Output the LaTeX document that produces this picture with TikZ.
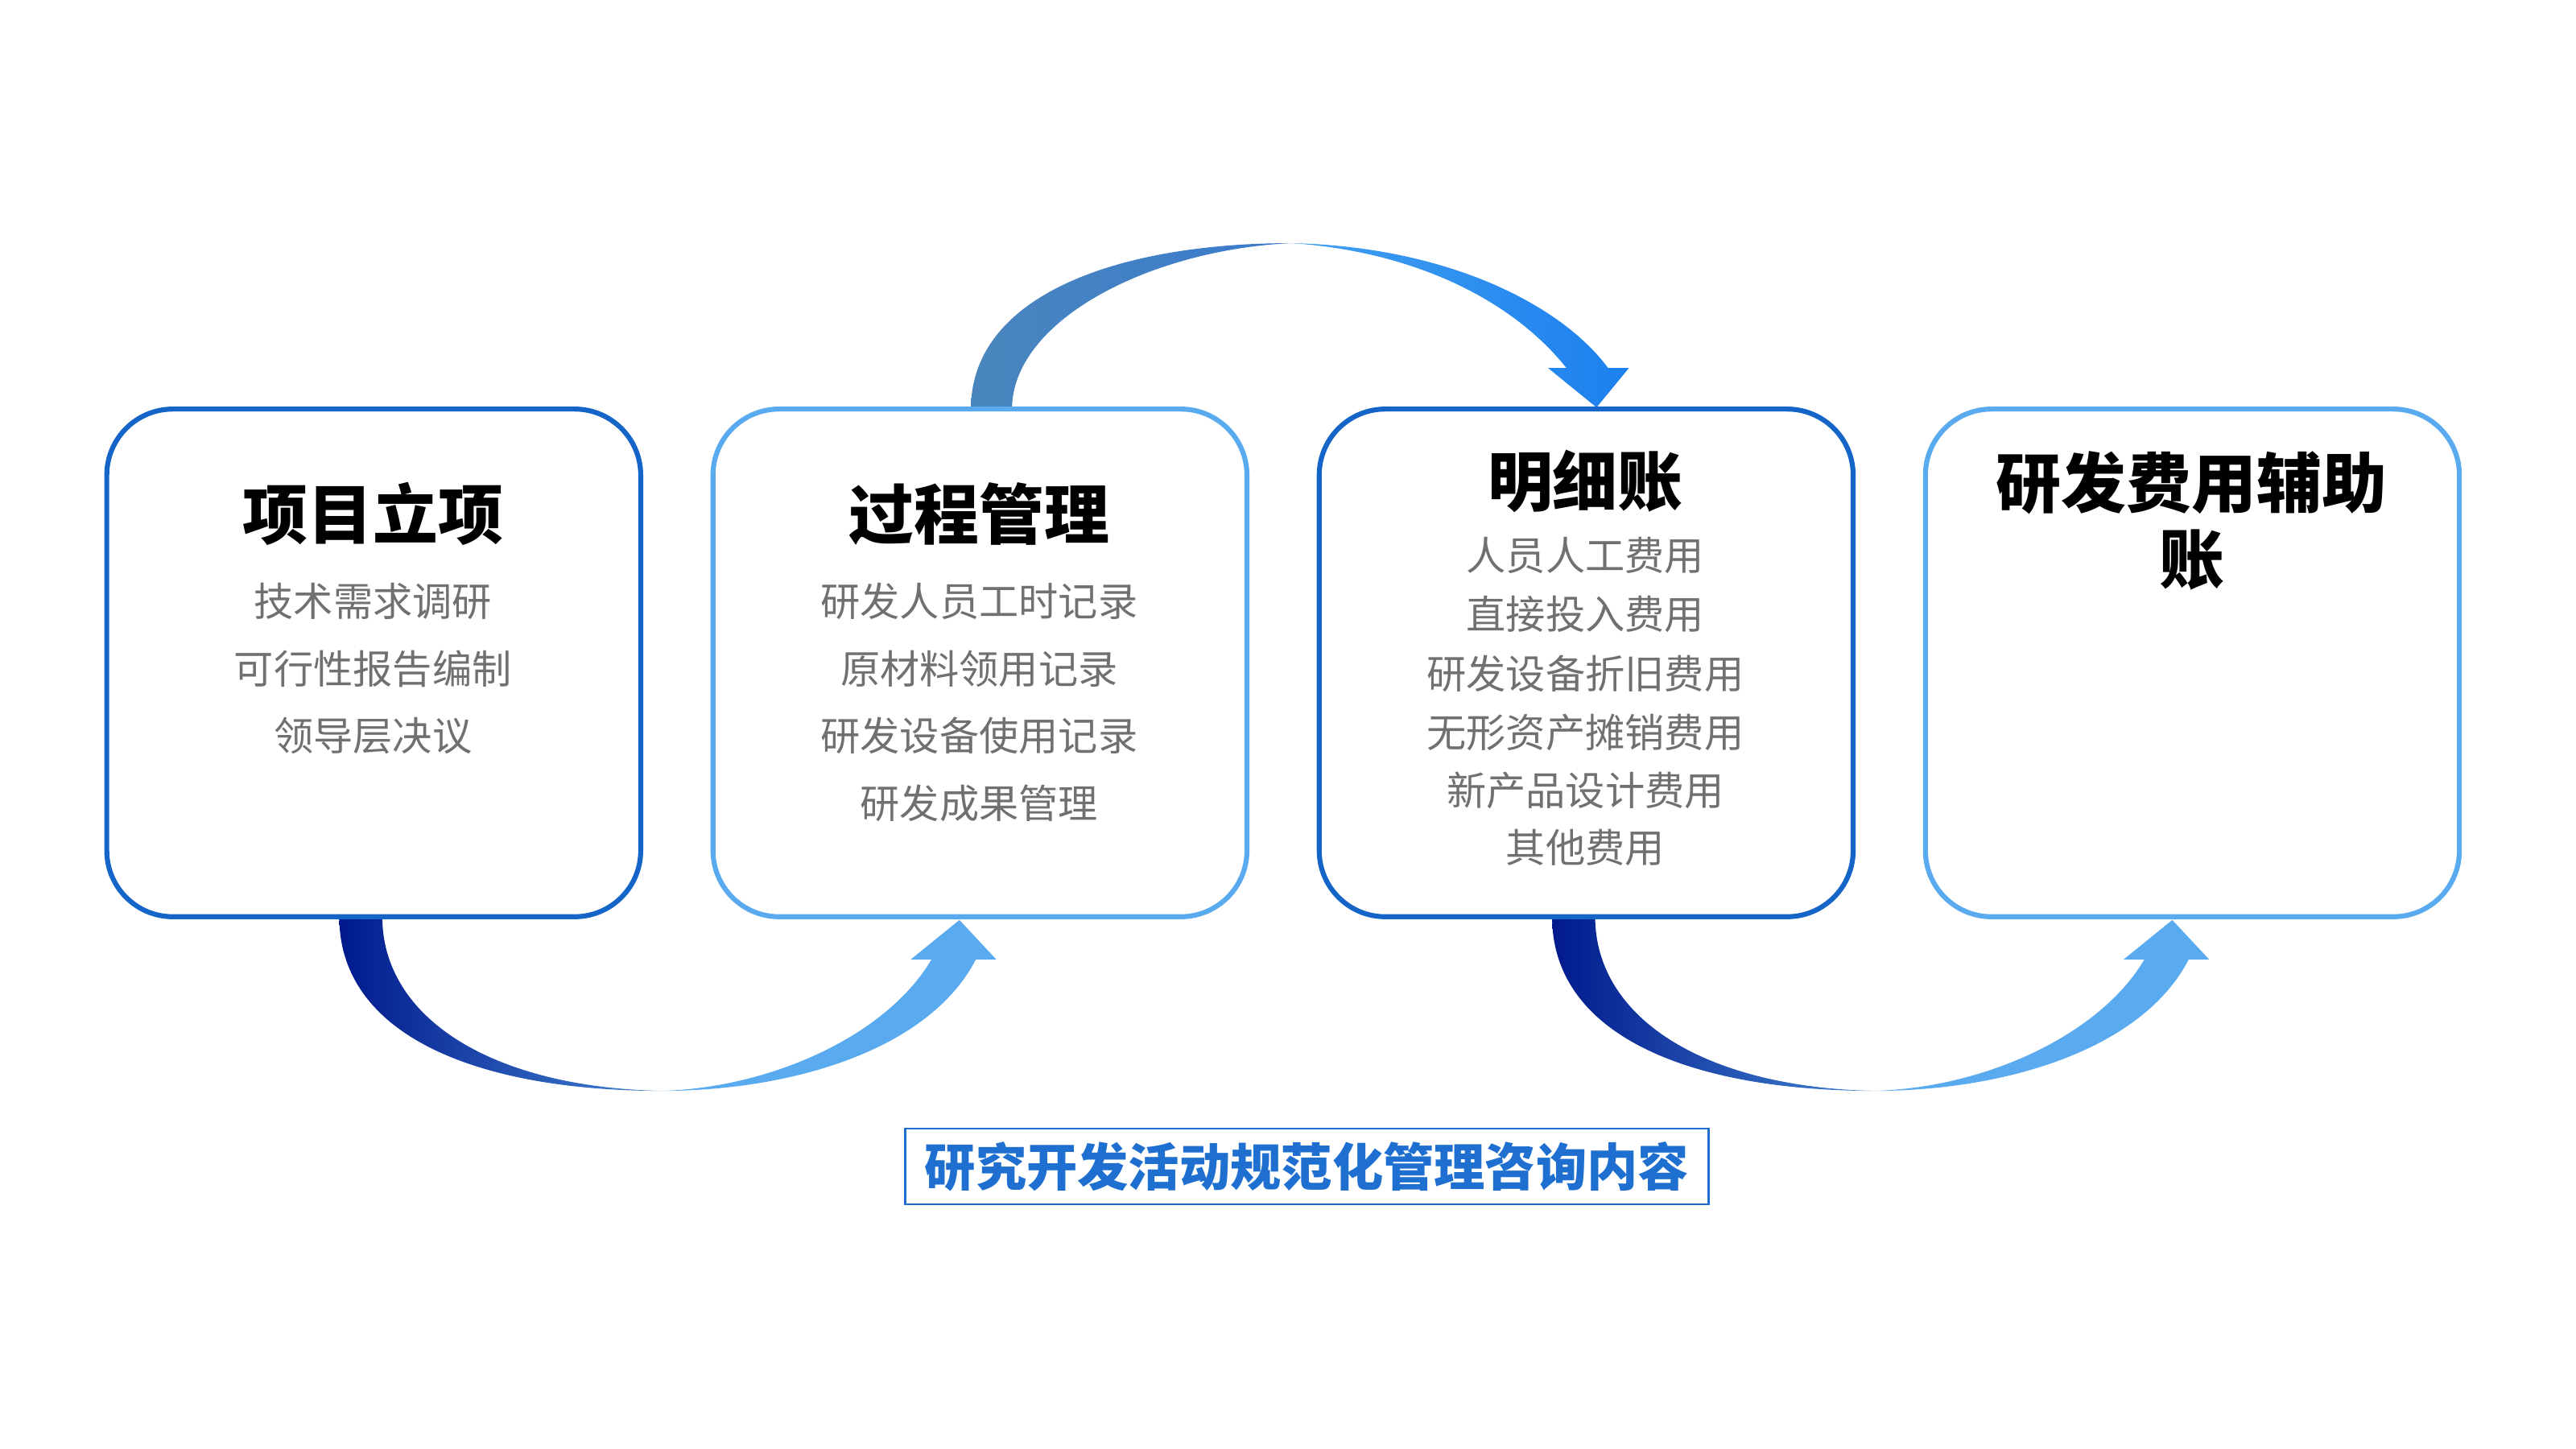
\documentclass[tikz,border=0pt]{standalone}
\usepackage{fontspec}
\setmainfont{Noto Sans CJK SC}
\begin{document}
\begin{tikzpicture}[x=0.020408cm,y=-0.020408cm,
  card/.style={draw, line width=1.75pt, rounded corners=8.2mm, fill=white},
  dark/.style={draw=boxdark}, light/.style={draw=boxlight},
  ttl/.style={font=\bfseries\fontsize{23}{26}\selectfont, text=black, align=center},
  itm/.style={font=\fontsize{14}{16}\selectfont, text=itemgray}]
\definecolor{boxdark}{HTML}{1565C8}
\definecolor{boxlight}{HTML}{5AAAF0}
\definecolor{itemgray}{HTML}{707070}
\definecolor{labblue}{HTML}{1E6FD0}
\useasboundingbox (0,0) rectangle (1568,882);
% arrows
\shade[left color=blue!50!black!90!cyan, right color=boxdark!80!white]
  (206.5,558) .. controls (206.5,630) and (290,664) .. (403,664)
  .. controls (300,662) and (232.7,620) .. (232.7,558) -- cycle;
\fill[boxlight] (403,664) .. controls (480,664) and (565,640) .. (594,584)
  -- (606.4,584) -- (584,560) -- (554.4,584) -- (567,584)
  .. controls (540,630) and (470,662) .. (403,664) -- cycle;
\begin{scope}[xshift=15.061cm]
\shade[left color=blue!50!black!90!cyan, right color=boxdark!80!white]
  (206.5,558) .. controls (206.5,630) and (290,664) .. (403,664)
  .. controls (300,662) and (232.7,620) .. (232.7,558) -- cycle;
\fill[boxlight] (403,664) .. controls (480,664) and (565,640) .. (594,584)
  -- (606.4,584) -- (584,560) -- (554.4,584) -- (567,584)
  .. controls (540,630) and (470,662) .. (403,664) -- cycle;
\end{scope}
\shade[left color={rgb,255:red,74;green,134;blue,190}, right color={rgb,255:red,58;green,122;blue,204}]
  (591,249) .. controls (591,180) and (680,148) .. (786,148)
  .. controls (700,152) and (616,195) .. (616,249) -- cycle;
\shade[left color={rgb,255:red,66;green,160;blue,240}, right color={rgb,255:red,28;green,128;blue,238}]
  (786,148) .. controls (880,150) and (950,185) .. (978.8,224)
  -- (991.5,224) -- (971.8,248) -- (942.3,224) -- (953.5,224)
  .. controls (920,182) and (860,153) .. (786,148) -- cycle;
% cards
\draw[card, dark] (65,249) rectangle (390,558);
\draw[card, light] (434,249) rectangle (759,558);
\draw[card, dark] (803,249) rectangle (1128,558);
\draw[card, light] (1172,249) rectangle (1497,558);
% texts
\node[ttl] (t1) at (227,313) {项目立项};
\node[itm] (a1) at (227,366) {技术需求调研};
\node[itm] (a2) at (227,407) {可行性报告编制};
\node[itm] (a3) at (227,448) {领导层决议};
\node[ttl] (t2) at (596,313) {过程管理};
\node[itm] (b1) at (596,366) {研发人员工时记录};
\node[itm] (b2) at (596,407) {原材料领用记录};
\node[itm] (b3) at (596,448) {研发设备使用记录};
\node[itm] (b4) at (596,489) {研发成果管理};
\node[ttl] (t3) at (965,293) {明细账};
\node[itm] (c1) at (965,338) {人员人工费用};
\node[itm] (c2) at (965,374) {直接投入费用};
\node[itm] (c3) at (965,410) {研发设备折旧费用};
\node[itm] (c4) at (965,446) {无形资产摊销费用};
\node[itm] (c5) at (965,481) {新产品设计费用};
\node[itm] (c6) at (965,516) {其他费用};
\node[ttl, font=\bfseries\fontsize{23}{27}\selectfont] (t4) at (1334,317) {研发费用辅助\\账};
\node[draw=labblue, line width=0.8pt, minimum width=9.98cm, minimum height=0.94cm,
  text=labblue, font=\bfseries\fontsize{18}{20}\selectfont] (lab) at (795.5,710) {研究开发活动规范化管理咨询内容};
\end{tikzpicture}
\end{document}
